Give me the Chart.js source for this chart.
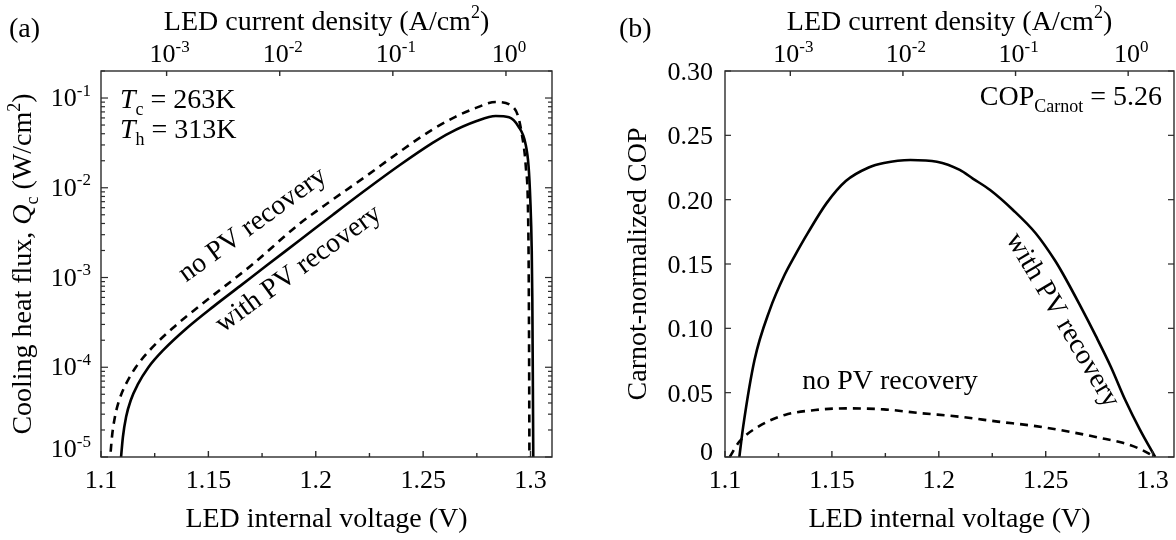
<!DOCTYPE html>
<html>
<head>
<meta charset="utf-8">
<script src="https://cdn.jsdelivr.net/npm/chart.js@4.4.1/dist/chart.umd.min.js"></script>
<style>
  html, body { margin: 0; padding: 0; background: #fff; }
  #wrap { position: relative; width: 1176px; height: 540px; }
  canvas { position: absolute; top: 0; }
  #fluxChart { left: 0; }
  #copChart { left: 588px; }
</style>
</head>
<body>
<div id="wrap">
  <canvas id="fluxChart" width="588" height="540"></canvas>
  <canvas id="copChart" width="588" height="540"></canvas>
</div>
<script>
// bottom axis: LED internal voltage (V), shared by both panels
const voltRange = [1.1, 1.31];
const voltTicks = [1.1, 1.15, 1.2, 1.25, 1.3];
const voltTickLabels = ['1.1', '1.15', '1.2', '1.25', '1.3'];
const voltMinorTicks = [1.125, 1.175, 1.225, 1.275];

// top axis: LED current density (A/cm2)
const currentRange = [Math.pow(10, -3.58), Math.pow(10, 0.407)];
const currentTicks = [1e-3, 1e-2, 1e-1, 1];
const currentExponents = ['-3', '-2', '-1', '0'];

// (a) cooling heat flux Qc (W/cm2)
const fluxRange = [1e-5, 0.2];
const fluxTicks = [1e-5, 1e-4, 1e-3, 1e-2, 1e-1];
const fluxExponents = ['-5', '-4', '-3', '-2', '-1'];

const fluxVoltsPV = [1.1090, 1.1102, 1.1117, 1.1139, 1.1170, 1.1221, 1.1291, 1.1399, 1.1523, 1.1647,
  1.1771, 1.1925, 1.2080, 1.2235, 1.2390, 1.2544, 1.2622, 1.2746, 1.2838,
  1.2900, 1.2944, 1.2976, 1.2991, 1.2999, 1.30056, 1.30084, 1.3011, 1.3013];
const fluxWithPV = [8.0e-6, 1.67e-5, 2.81e-5, 4.32e-5, 6.35e-5, 1.0e-4, 1.56e-4, 2.72e-4, 4.74e-4, 8.02e-4,
  1.36e-3, 2.60e-3, 5.01e-3, 9.55e-3, 1.78e-2, 3.16e-2, 4.07e-2, 5.50e-2, 6.31e-2,
  6.12e-2, 4.81e-2, 3.14e-2, 1.72e-2, 7.33e-3, 2.03e-3, 5.6e-4, 6.0e-5, 8.0e-6];

const fluxVoltsNoPV = [1.1040, 1.1051, 1.1065, 1.1085, 1.1114, 1.1162, 1.1228, 1.1333, 1.1455, 1.1577,
  1.1699, 1.1925, 1.2080, 1.2235, 1.2390, 1.2544, 1.2650, 1.2746, 1.2838, 1.2916,
  1.2940, 1.2959, 1.2978, 1.2990, 1.2993, 1.2995];
const fluxNoPV = [8.0e-6, 1.67e-5, 2.81e-5, 4.32e-5, 6.35e-5, 1.0e-4, 1.56e-4, 2.72e-4, 4.74e-4, 8.02e-4,
  1.36e-3, 3.98e-3, 7.41e-3, 1.35e-2, 2.51e-2, 4.47e-2, 6.17e-2, 7.76e-2, 9.02e-2, 8.04e-2,
  6.5e-2, 4.03e-2, 1.72e-2, 3.12e-3, 2.4e-4, 8.0e-6];

// (b) Carnot-normalized COP
const copRange = [0, 0.3];
const copTicks = [0, 0.05, 0.10, 0.15, 0.20, 0.25, 0.30];
const copTickLabels = ['0', '0.05', '0.10', '0.15', '0.20', '0.25', '0.30'];

const copVoltsPV = [1.1067, 1.1085, 1.1138, 1.1209, 1.1280, 1.1325, 1.1387, 1.1476, 1.1565, 1.1672,
  1.1743, 1.1867, 1.1991, 1.2098, 1.2159, 1.2240, 1.2347, 1.2453, 1.2542, 1.2579,
  1.2660, 1.2736, 1.2805, 1.2872, 1.2940, 1.3012];
const copWithPV = [0, 0.0236, 0.0754, 0.1142, 0.1420, 0.1560, 0.1740, 0.1975, 0.2145, 0.2250,
  0.2285, 0.2308, 0.2295, 0.2231, 0.2164, 0.2075, 0.1920, 0.1739, 0.1531, 0.1428,
  0.1180, 0.0935, 0.0700, 0.0443, 0.0215, 0];

const copVoltsNoPV = [1.1022, 1.1067, 1.1156, 1.1280, 1.1422, 1.1565, 1.1743, 1.1920, 1.2098, 1.2276,
  1.2453, 1.2631, 1.2750, 1.2860, 1.2930, 1.2985, 1.3008];
const copNoPV = [0, 0.0119, 0.0236, 0.0327, 0.0365, 0.0378, 0.0370, 0.0340, 0.0313, 0.0275,
  0.0240, 0.0190, 0.0150, 0.0110, 0.0070, 0.0025, 0];

const SERIF = '"Liberation Serif", "Times New Roman", serif';
const TICK_SIZE = 26;
const TEXT_SIZE = 28;

// draws a run of text pieces: {t, i: italic, sub, sup}
function drawRich(ctx, parts, x, y, align, size) {
  const small = Math.round(size * 0.64);
  const fontOf = (s, it) => (it ? 'italic ' : '') + s + 'px ' + SERIF;
  let w = 0;
  const laid = parts.map(p => {
    const s = (p.sub || p.sup) ? small : size;
    ctx.font = fontOf(s, p.i);
    const pw = ctx.measureText(p.t).width;
    const r = Object.assign({}, p, { s: s, x: w });
    w += pw;
    return r;
  });
  const x0 = align === 'center' ? x - w / 2 : align === 'right' ? x - w : x;
  ctx.textAlign = 'left';
  ctx.textBaseline = 'alphabetic';
  laid.forEach(p => {
    ctx.font = fontOf(p.s, p.i);
    const dy = p.sub ? size * 0.24 : p.sup ? -size * 0.40 : 0;
    ctx.fillText(p.t, x0 + p.x, y + dy);
  });
}

function drawRotated(ctx, parts, cx, cy, angle, size) {
  ctx.save();
  ctx.translate(cx, cy);
  ctx.rotate(angle);
  drawRich(ctx, parts, 0, 0, 'center', size);
  ctx.restore();
}

function line(ctx, x1, y1, x2, y2) {
  ctx.beginPath();
  ctx.moveTo(x1, y1);
  ctx.lineTo(x2, y2);
  ctx.stroke();
}

// frame, inward ticks and the labels of the voltage / current axes
function drawCommonAxes(chart) {
  const ctx = chart.ctx;
  const a = chart.chartArea;
  const xs = chart.scales.x;
  const top = chart.scales.top;
  ctx.save();
  ctx.strokeStyle = '#2b2b2b';
  ctx.lineWidth = 1.4;
  ctx.strokeRect(a.left, a.top, a.right - a.left, a.bottom - a.top);

  voltTicks.forEach(v => { const px = xs.getPixelForValue(v); line(ctx, px, a.bottom, px, a.bottom - 6); });
  voltMinorTicks.forEach(v => { const px = xs.getPixelForValue(v); line(ctx, px, a.bottom, px, a.bottom - 4); });
  currentTicks.forEach(v => { const px = top.getPixelForValue(v); line(ctx, px, a.top, px, a.top + 5); });

  ctx.fillStyle = '#000';
  ctx.font = TICK_SIZE + 'px ' + SERIF;
  ctx.textAlign = 'center';
  ctx.textBaseline = 'alphabetic';
  voltTicks.forEach((v, i) => ctx.fillText(voltTickLabels[i], xs.getPixelForValue(v), a.bottom + 31));
  currentTicks.forEach((v, i) => {
    drawRich(ctx, [{ t: '10' }, { t: currentExponents[i], sup: true }],
      top.getPixelForValue(v) + 3, a.top - 9, 'center', TICK_SIZE);
  });

  const mid = (a.left + a.right) / 2;
  drawRich(ctx, [{ t: 'LED internal voltage (V)' }], mid, 527, 'center', TEXT_SIZE);
  drawRich(ctx, [{ t: 'LED current density (A/cm' }, { t: '2', sup: true }, { t: ')' }], mid, 29.5, 'center', TEXT_SIZE);
  ctx.restore();
}

const fluxAxes = {
  id: 'fluxAxes',
  afterDraw(chart) {
    drawCommonAxes(chart);
    const ctx = chart.ctx;
    const a = chart.chartArea;
    const ys = chart.scales.y;
    ctx.save();
    ctx.strokeStyle = '#2b2b2b';
    ctx.lineWidth = 1.2;
    fluxTicks.forEach(v => {
      const py = ys.getPixelForValue(v);
      line(ctx, a.left, py, a.left + 7, py);
      line(ctx, a.right, py, a.right - 7, py);
      for (let m = 2; m <= 9; m++) {
        if (v * m > fluxRange[1]) break;
        const my = ys.getPixelForValue(v * m);
        line(ctx, a.left, my, a.left + 4, my);
        line(ctx, a.right, my, a.right - 4, my);
      }
    });
    ctx.fillStyle = '#000';
    fluxTicks.forEach((v, i) => {
      const py = ys.getPixelForValue(v);
      const base = i === 0 ? py : py + 8;
      drawRich(ctx, [{ t: '10' }, { t: fluxExponents[i], sup: true }], a.left - 10, base, 'right', TICK_SIZE);
    });

    drawRich(ctx, [{ t: '(a)' }], 9, 37, 'left', TEXT_SIZE);
    drawRich(ctx, [{ t: 'T', i: true }, { t: 'c', sub: true }, { t: ' = 263K' }], 120, 108, 'left', TEXT_SIZE);
    drawRich(ctx, [{ t: 'T', i: true }, { t: 'h', sub: true }, { t: ' = 313K' }], 120, 138, 'left', TEXT_SIZE);

    ctx.save();
    ctx.translate(31, (a.top + a.bottom) / 2);
    ctx.rotate(-Math.PI / 2);
    drawRich(ctx, [{ t: 'Cooling heat flux, ' }, { t: 'Q', i: true }, { t: 'c', sub: true },
      { t: ' (W/cm' }, { t: '2', sup: true }, { t: ')' }], 0, 0, 'center', TEXT_SIZE);
    ctx.restore();

    const ang = -36 * Math.PI / 180;
    drawRotated(ctx, [{ t: 'no PV recovery' }], 257, 231, ang, TEXT_SIZE);
    drawRotated(ctx, [{ t: 'with PV recovery' }], 303, 275, ang, TEXT_SIZE);
    ctx.restore();
  }
};

const copAxes = {
  id: 'copAxes',
  afterDraw(chart) {
    drawCommonAxes(chart);
    const ctx = chart.ctx;
    const a = chart.chartArea;
    const ys = chart.scales.y;
    ctx.save();
    ctx.strokeStyle = '#2b2b2b';
    ctx.lineWidth = 1.2;
    copTicks.forEach(v => {
      const py = ys.getPixelForValue(v);
      line(ctx, a.left, py, a.left + 6, py);
      line(ctx, a.right, py, a.right - 6, py);
    });
    ctx.fillStyle = '#000';
    ctx.font = TICK_SIZE + 'px ' + SERIF;
    ctx.textAlign = 'right';
    copTicks.forEach((v, i) => {
      const py = ys.getPixelForValue(v);
      ctx.fillText(copTickLabels[i], a.left - 12, i === 0 ? py + 3 : py + 9);
    });

    drawRich(ctx, [{ t: '(b)' }], 31, 37, 'left', TEXT_SIZE);
    drawRich(ctx, [{ t: 'COP' }, { t: 'Carnot', sub: true }, { t: ' = 5.26' }], 574, 105, 'right', TEXT_SIZE);
    drawRich(ctx, [{ t: 'no PV recovery' }], 302, 389, 'center', TEXT_SIZE);

    ctx.save();
    ctx.translate(58, (a.top + a.bottom) / 2);
    ctx.rotate(-Math.PI / 2);
    drawRich(ctx, [{ t: 'Carnot-normalized COP' }], 0, 0, 'center', TEXT_SIZE);
    ctx.restore();

    drawRotated(ctx, [{ t: 'with PV recovery' }], 468, 324, 59.4 * Math.PI / 180, TEXT_SIZE);
    ctx.restore();
  }
};

function series(xs, ys, dashed) {
  return {
    data: xs.map((v, i) => ({ x: v, y: ys[i] })),
    borderColor: '#000',
    borderWidth: 2.6,
    borderDash: dashed ? [8, 6] : [],
    pointRadius: 0,
    fill: false,
    cubicInterpolationMode: 'monotone'
  };
}

function hiddenAxis(extra) {
  return Object.assign({
    ticks: { display: false },
    grid: { display: false },
    border: { display: false }
  }, extra);
}

function panelOptions(yAxis, leftWidth, rightPad) {
  return {
    responsive: false,
    animation: false,
    events: [],
    layout: { padding: { left: 0, right: rightPad, top: 0, bottom: 0 } },
    plugins: { legend: { display: false }, tooltip: { enabled: false }, title: { display: false } },
    scales: {
      x: hiddenAxis({
        type: 'linear', position: 'bottom', min: voltRange[0], max: voltRange[1],
        afterFit: s => { s.height = 540 - 457; }
      }),
      top: hiddenAxis({
        type: 'logarithmic', position: 'top', min: currentRange[0], max: currentRange[1],
        afterFit: s => { s.height = 71; }
      }),
      y: hiddenAxis(Object.assign(yAxis, { position: 'left', afterFit: s => { s.width = leftWidth; } }))
    }
  };
}

new Chart(document.getElementById('fluxChart').getContext('2d'), {
  type: 'line',
  data: {
    datasets: [
      series(fluxVoltsPV, fluxWithPV, false),
      series(fluxVoltsNoPV, fluxNoPV, true)
    ]
  },
  options: panelOptions({ type: 'logarithmic', min: fluxRange[0], max: fluxRange[1] }, 101, 36),
  plugins: [fluxAxes]
});

new Chart(document.getElementById('copChart').getContext('2d'), {
  type: 'line',
  data: {
    datasets: [
      series(copVoltsPV, copWithPV, false),
      series(copVoltsNoPV, copNoPV, true)
    ]
  },
  options: panelOptions({ type: 'linear', min: copRange[0], max: copRange[1] }, 137, 2),
  plugins: [copAxes]
});
</script>
</body>
</html>
